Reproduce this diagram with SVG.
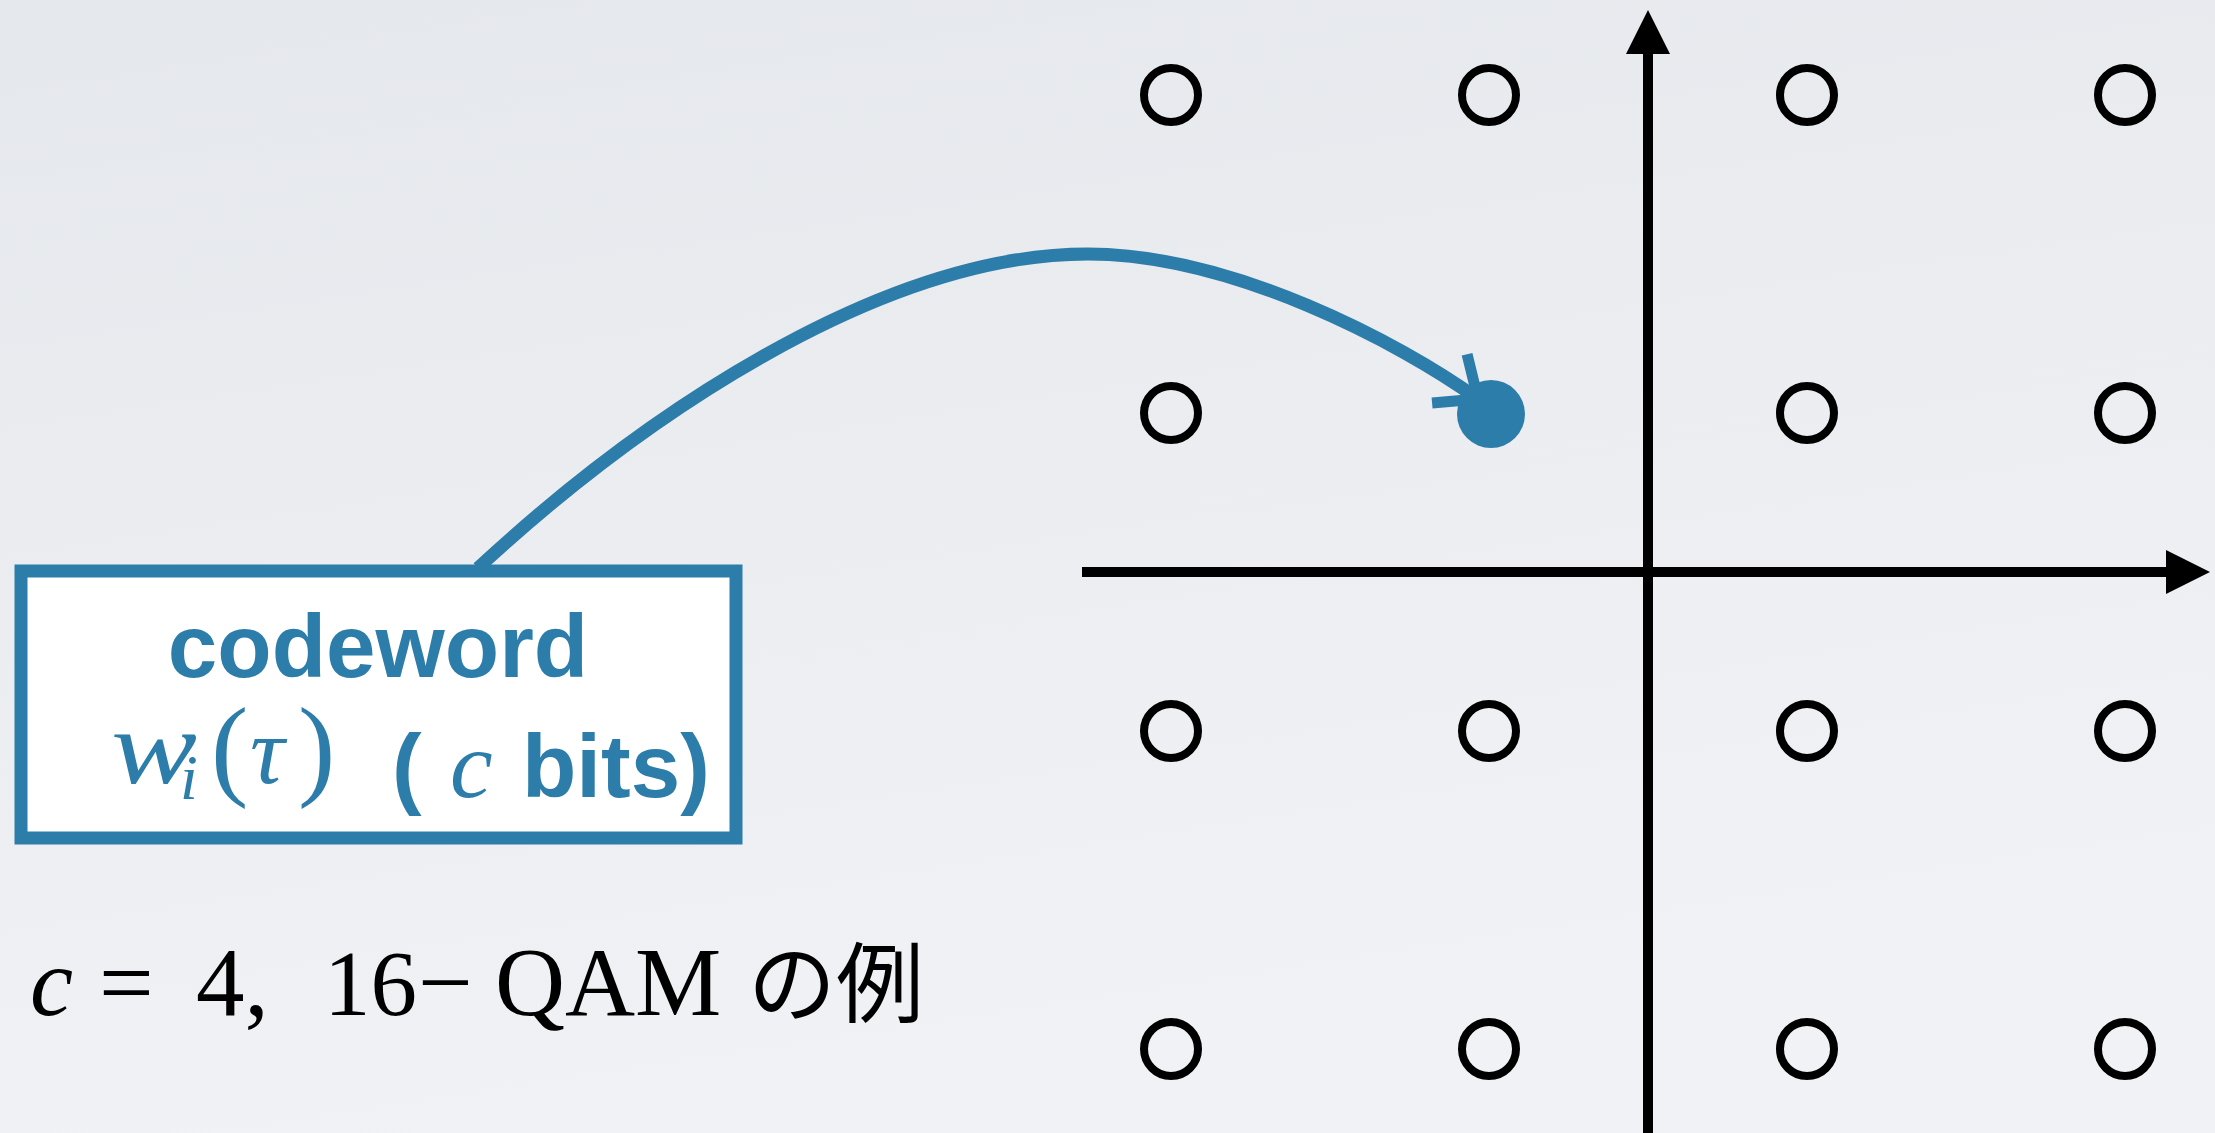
<svg xmlns="http://www.w3.org/2000/svg" width="2215" height="1133" viewBox="0 0 2215 1133">
<defs>
<linearGradient id="bg" x1="0" y1="0" x2="0.3" y2="1">
<stop offset="0" stop-color="#e5e8ec"/>
<stop offset="1" stop-color="#f1f2f5"/>
</linearGradient>
<marker id="vee" markerUnits="userSpaceOnUse" markerWidth="80" markerHeight="80" viewBox="-60 -40 80 80" refX="0" refY="0" orient="auto">
<path d="M -35 -30 L 0 0 L -35 30" fill="none" stroke="#2d7daa" stroke-width="11"/>
</marker>
<marker id="tri" markerUnits="userSpaceOnUse" markerWidth="50" markerHeight="50" viewBox="-2 -25 50 50" refX="0" refY="0" orient="auto">
<path d="M 0 -22 L 44 0 L 0 22 Z" fill="#000"/>
</marker>
</defs>
<style>
.pt{fill:none;stroke:#000;stroke-width:8}
.ax{stroke:#000;stroke-width:10;fill:none}
.blue{fill:#2d7daa}
.sans{font-family:"Liberation Sans",Arial,sans-serif;font-weight:bold}
.math{font-family:"Liberation Serif","Times New Roman",serif}
.it{font-style:italic}
.cjk{font-family:"Noto Sans CJK JP",sans-serif}
</style>
<rect width="2215" height="1133" fill="url(#bg)"/>

<g id="axes">
<line class="ax" x1="1082" y1="572" x2="2166" y2="572" marker-end="url(#tri)"/>
<line class="ax" x1="1648" y1="1133" x2="1648" y2="54" marker-end="url(#tri)"/>
</g>

<g id="connectors">
<path d="M 478 568 C 640 418 880 254 1088 254 C 1232 254 1400 343 1478 399" fill="none" stroke="#2d7daa" stroke-width="13" marker-end="url(#vee)"/>
</g>

<g id="constellation">
<circle class="pt" cx="1171" cy="95" r="27"/>
<circle class="pt" cx="1489" cy="95" r="27"/>
<circle class="pt" cx="1807" cy="95" r="27"/>
<circle class="pt" cx="2125" cy="95" r="27"/>
<circle class="pt" cx="1171" cy="413" r="27"/>
<circle class="pt" cx="1807" cy="413" r="27"/>
<circle class="pt" cx="2125" cy="413" r="27"/>
<circle class="pt" cx="1171" cy="731" r="27"/>
<circle class="pt" cx="1489" cy="731" r="27"/>
<circle class="pt" cx="1807" cy="731" r="27"/>
<circle class="pt" cx="2125" cy="731" r="27"/>
<circle class="pt" cx="1171" cy="1049" r="27"/>
<circle class="pt" cx="1489" cy="1049" r="27"/>
<circle class="pt" cx="1807" cy="1049" r="27"/>
<circle class="pt" cx="2125" cy="1049" r="27"/>
</g>

<g id="selected-point">
<circle cx="1491" cy="414" r="34" fill="#2d7daa"/>
</g>

<g id="codeword-box">
<rect x="21" y="571" width="715" height="267" fill="#ffffff" stroke="#2d7daa" stroke-width="13"/>
<text class="sans blue" x="378" y="677" font-size="89" text-anchor="middle">codeword</text>
<text class="math it blue" x="111" y="783" font-size="105" textLength="86" lengthAdjust="spacingAndGlyphs">w</text>
<text class="math it blue" x="180" y="799" font-size="64">i</text>
<text class="math blue" x="211" y="785" font-size="112">(</text>
<text class="math it blue" x="250" y="783" font-size="96">τ</text>
<text class="math blue" x="298" y="785" font-size="112">)</text>
<text class="sans blue" x="392" y="797" font-size="89">(</text>
<text class="math it blue" x="450" y="797" font-size="96">c</text>
<text class="sans blue" x="522" y="797" font-size="89">bits)</text>
</g>

<g id="caption">
<text class="math it" x="30" y="1015" font-size="97">c</text>
<text class="math" x="99" y="1015" font-size="97">=</text>
<text class="math" x="196" y="1015" font-size="97">4,</text>
<text class="math" x="324" y="1015" font-size="93">16</text>
<text class="math" x="418" y="1015" font-size="97">−</text>
<text class="math" x="495" y="1015" font-size="97">QAM</text>
<text class="cjk" x="748" y="1015" font-size="88">の例</text>
</g>
</svg>
